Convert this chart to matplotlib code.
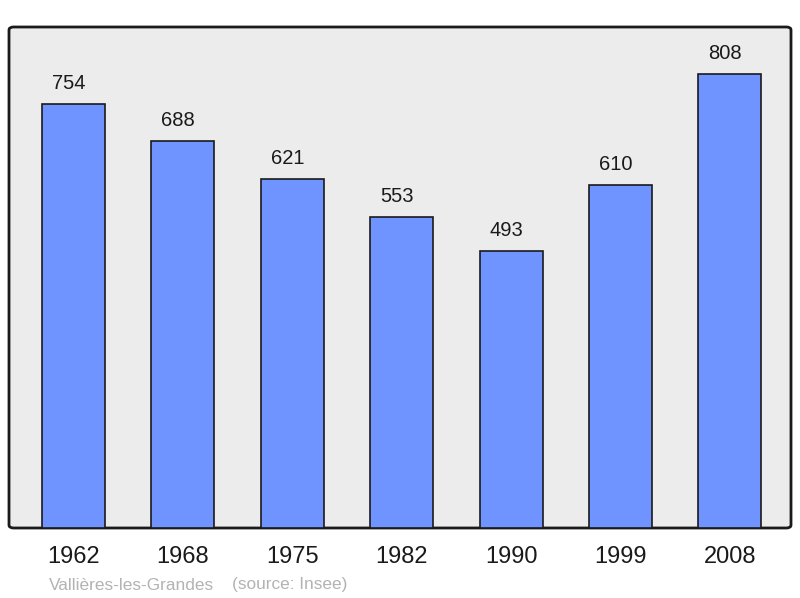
import matplotlib.pyplot as plt
from matplotlib.patches import FancyBboxPatch

plt.rcParams['font.family'] = ['Liberation Sans', 'DejaVu Sans']

years = ['1962', '1968', '1975', '1982', '1990', '1999', '2008']
population = [754, 688, 621, 553, 493, 610, 808]

fig = plt.figure(figsize=(8, 5.98), dpi=100)
ax = fig.add_axes([9/800, 70/598, 782/800, 501/598])
ax.set_facecolor('none')
for s in ax.spines.values():
    s.set_visible(False)

# rounded background frame
bg = FancyBboxPatch((0, 0), 1, 1, boxstyle='round,pad=0,rounding_size=0.006',
                    transform=ax.transAxes, facecolor='#ececec', edgecolor='#1a1a1a',
                    linewidth=2, zorder=0, clip_on=False)
ax.add_patch(bg)

x = range(len(years))
ax.bar(x, population, width=0.576, color='#7094ff', edgecolor='#1a1a1a',
       linewidth=1.2, zorder=2)
for i, v in zip(x, population):
    ax.annotate(str(v), (i, v), xytext=(-3.3, 8), textcoords='offset points',
                ha='center', va='bottom', fontsize=14.5, color='#1a1a1a')

ax.set_xlim(-0.59, 6.56)
ax.set_ylim(0, 891)
ax.set_xticks(list(x))
ax.set_xticklabels(years, fontsize=17, color='#1a1a1a')
ax.tick_params(axis='x', length=0, pad=13)
ax.set_yticks([])

fig.text(49/800, 1 - 585/598, 'Vallières-les-Grandes', fontsize=12.4,
         color='#b3b3b3', va='center', ha='left')
fig.text(232/800, 1 - 585/598, '(source: Insee)', fontsize=12.4,
         color='#b3b3b3', va='center', ha='left')

fig.savefig('out.png', dpi=100)
